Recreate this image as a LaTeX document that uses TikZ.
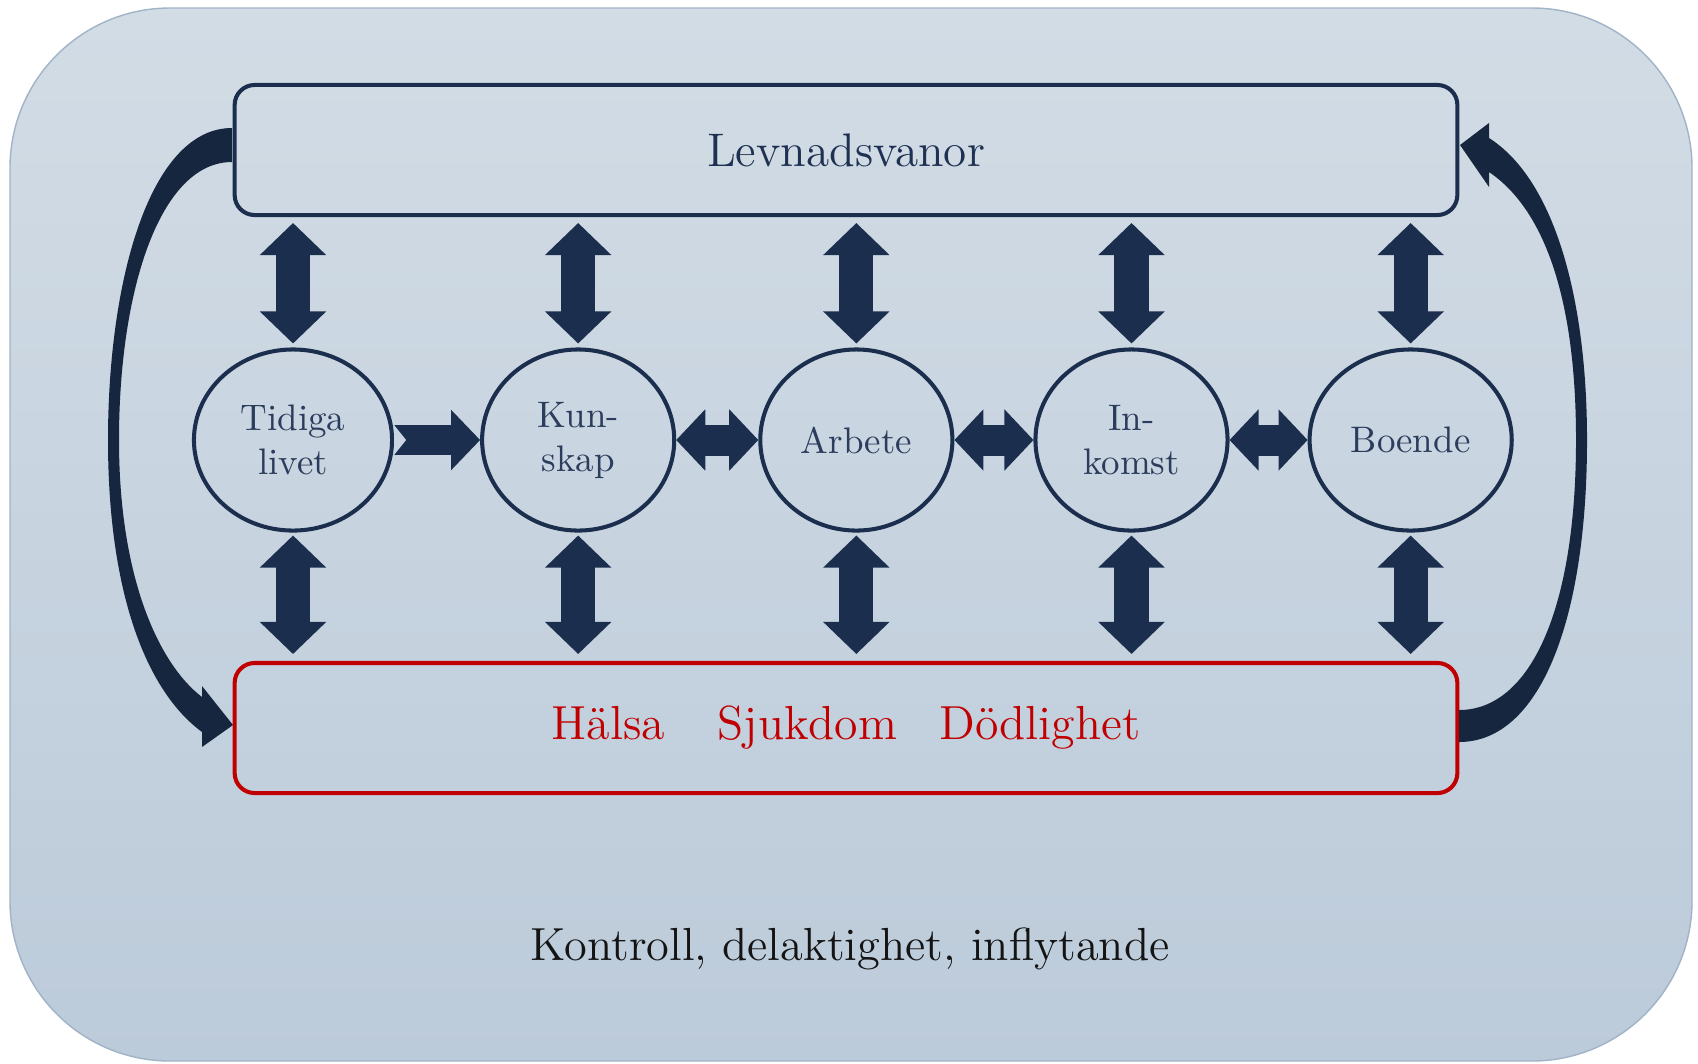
\documentclass[tikz,border=0pt]{standalone}
\usepackage{fontspec}
\usetikzlibrary{shapes.geometric, arrows.meta}

\definecolor{navy}{HTML}{1B2E4E}
\definecolor{curvecol}{HTML}{16263F}
\definecolor{circtext}{HTML}{2C3C5C}
\definecolor{levtext}{HTML}{1F3152}
\definecolor{redline}{HTML}{C00000}
\definecolor{bgtop}{HTML}{D2DCE5}
\definecolor{bgbot}{HTML}{BCCBDA}
\definecolor{bgmid}{HTML}{C9D5E0}
\definecolor{frame}{HTML}{A0B3C7}

\begin{document}
\begin{tikzpicture}[x=0.01cm, y=-0.01cm,
      box/.style={rectangle, draw, line width=1.15pt, rounded corners=2mm,
        minimum width=122.2mm, minimum height=13mm},
      circ/.style={ellipse, draw=navy, line width=1.15pt, minimum width=19.2mm,
        minimum height=18.1mm, align=center, text=circtext,
        font=\fontsize{10.5pt}{12.5pt}\selectfont},
      vbi/.style={draw=navy, line width=3.4mm,
        {Triangle[length=3.2mm, width=6.6mm, line width=0.6pt]}-{Triangle[length=3.2mm, width=6.6mm, line width=0.6pt]}},
      hbi/.style={draw=navy, line width=3.1mm,
        {Triangle[length=2.9mm, width=6.1mm, line width=0.6pt]}-{Triangle[length=2.9mm, width=6.1mm, line width=0.6pt]}},
      hone/.style={draw=navy, line width=3mm, -{Triangle[length=2.9mm, width=6mm, line width=0.6pt]}},
      node distance=27.9mm]
      \useasboundingbox (0,0) rectangle (1698,1063);
      % background
      \path[draw=frame, line width=0.4pt, top color=bgtop, bottom color=bgbot, rounded corners=16mm]
        (10,8) rectangle (1692,1061);

      \node[circ, minimum width=19.8mm] (tidig) at (293,440) {Tidiga\\livet};
      \node[circ, right of=tidig, node distance=28.5mm] (kunskap) {Kun-\\skap};
      \node[circ, right of=kunskap, node distance=27.8mm] (arbete) {Arbete};
      \node[circ, right of=arbete, node distance=27.5mm] (inkomst) {In-\\komst};
      \node[circ, minimum width=19.8mm, right of=inkomst] (boende) {Boende};

      \node[box, draw=navy, text=levtext, font=\fontsize{13.4pt}{16pt}\selectfont] (levnad) at (846,150) {Levnadsvanor};
      \node[box, draw=redline, text=redline, font=\fontsize{13.6pt}{16pt}\selectfont] (halsa) at (846,728)
        {Hälsa\hspace{15pt}Sjukdom\hspace{12pt}Dödlighet};
      \node[anchor=base, text=black!92, font=\fontsize{13.2pt}{16pt}\selectfont] (kontroll) at (850,960)
        {Kontroll, delaktighet, inflytande};

      \foreach \nd in {tidig,kunskap,arbete,inkomst,boende} {
        \draw[vbi, shorten <=0.6mm, shorten >=0.4mm] (\nd.north |- levnad.south) -- (\nd.north);
        \draw[vbi, shorten <=0.3mm, shorten >=0.7mm] (\nd.south) -- (\nd.south |- halsa.north);
      }

      \draw[hone] (tidig) -- (kunskap);
      \fill[bgmid] ([yshift=1.5mm]tidig.east) -- ++(12,15) -- ++(-12,15) -- cycle;
      \draw[hbi] (kunskap) -- (arbete);
      \draw[hbi] (arbete) -- (inkomst);
      \draw[hbi] (inkomst) -- (boende);

      % curved feedback arrows
      \fill[curvecol] (232,128) .. controls (150,128) and (108,280) .. (108,440)
        .. controls (108,590) and (145,690) .. (202,732) -- (202,747) -- (233,725) -- (202,686) -- (202,697)
        .. controls (160,665) and (119,580) .. (119,440)
        .. controls (119,290) and (160,162) .. (232,162) -- cycle;
      \fill[curvecol] (1459,710) .. controls (1530,710) and (1576,610) .. (1576,440)
        .. controls (1576,300) and (1545,210) .. (1489,172) -- (1489,187) -- (1460,145) -- (1489,123) -- (1489,138)
        .. controls (1555,180) and (1587,300) .. (1587,440)
        .. controls (1587,620) and (1540,742) .. (1459,742) -- cycle;
\end{tikzpicture}
\end{document}
